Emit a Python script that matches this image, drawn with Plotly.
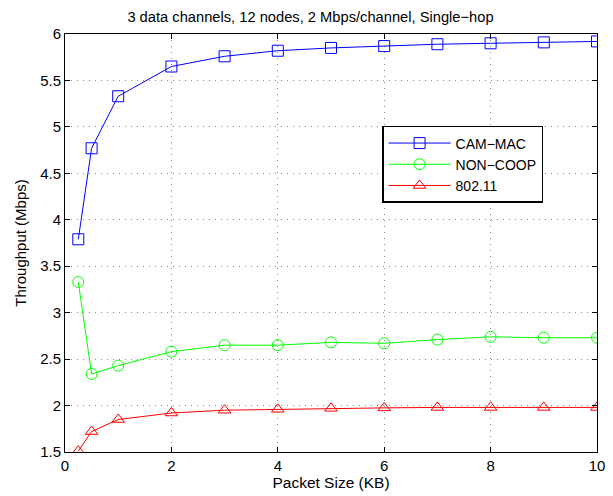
import plotly.graph_objects as go

packet_size = [0.25, 0.5, 1, 2, 3, 4, 5, 6, 7, 8, 9, 10]
cam_mac = [3.79, 4.77, 5.33, 5.65, 5.76, 5.82, 5.85, 5.87, 5.89, 5.90, 5.91, 5.92]
non_coop = [3.33, 2.34, 2.43, 2.58, 2.65, 2.65, 2.68, 2.67, 2.71, 2.74, 2.73, 2.73]
ieee80211 = [1.51, 1.72, 1.85, 1.92, 1.95, 1.96, 1.97, 1.975, 1.98, 1.98, 1.98, 1.98]

y_ticks = [1.5, 2, 2.5, 3, 3.5, 4, 4.5, 5, 5.5, 6]
y_labels = ["1.5", "2", "2.5", "3", "3.5", "4", "4.5", "5", "5.5", "6"]
x_ticks = [0, 2, 4, 6, 8, 10]

fig = go.Figure()
series = [
    ("CAM\u2212MAC", cam_mac, "#0000ff", "square-open"),
    ("NON\u2212COOP", non_coop, "#00ff00", "circle-open"),
    ("802.11", ieee80211, "#ff0000", "triangle-up-open"),
]
for name, vals, color, sym in series:
    fig.add_trace(go.Scatter(
        x=packet_size, y=vals, name=name, mode="lines+markers",
        line=dict(color=color, width=1),
        marker=dict(symbol=sym, size=11, color=color, line=dict(color=color, width=1)),
    ))

axis_common = dict(
    showline=True, linecolor="black", linewidth=1, mirror="allticks",
    ticks="inside", ticklen=5, tickcolor="black",
    showgrid=True, gridcolor="#8a8a8a", griddash="1px,5px", gridwidth=1,
    zeroline=False, tickfont=dict(size=15, color="black"), automargin=False,
)
fig.update_xaxes(range=[0, 10], tickvals=x_ticks,
                 title=dict(text="Packet Size (KB)", font=dict(size=15.5, color="black"), standoff=4),
                 **axis_common)
fig.update_yaxes(range=[1.5, 6], tickvals=y_ticks, ticktext=y_labels,
                 title=dict(text="Throughput (Mbps)", font=dict(size=15, color="black"), standoff=9),
                 **axis_common)

fig.update_layout(
    width=605, height=488,
    margin=dict(l=57, r=16, t=26, b=44),
    paper_bgcolor="white", plot_bgcolor="white",
    font=dict(family="Liberation Sans, Arial, sans-serif", color="black"),
    title=dict(text="3 data channels, 12 nodes, 2 Mbps/channel, Single\u2212hop",
               x=0.5, xanchor="center", y=0.9816, yanchor="middle",
               font=dict(size=14.7, color="black")),
    legend=dict(x=0.596, y=0.780, xanchor="left", yanchor="top",
                bgcolor="white", bordercolor="black", borderwidth=1.5,
                itemwidth=62,
                font=dict(size=14, color="black"), tracegroupgap=0),
)

fig.write_html("out.html")
